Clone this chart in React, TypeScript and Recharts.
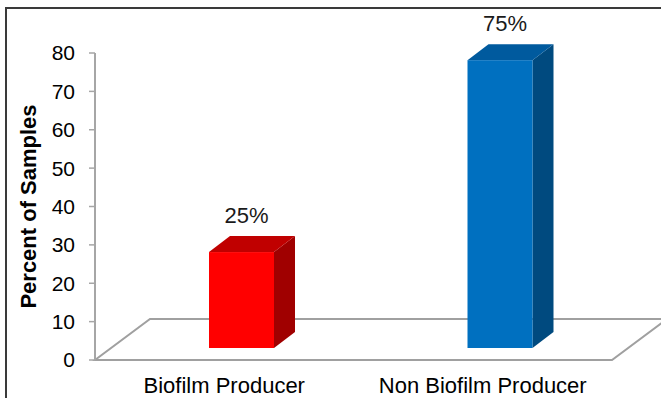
import { Bar, BarChart, LabelList, XAxis, YAxis } from "recharts";

const categories = ["Biofilm Producer", "Non Biofilm Producer"];
const percents = [25, 75];
const yTicks = [0, 10, 20, 30, 40, 50, 60, 70, 80];
const faceColors = [
  { front: "#FF0000", top: "#C00000", side: "#A00000" },
  { front: "#0070C0", top: "#005A9E", side: "#004A7F" },
];

const data = categories.map((name, i) => ({ name, value: percents[i], idx: i }));

const W = 661;
const H = 398;
const X_AXIS_H = 30;
const Y_AXIS_W = 95;
const margin = { top: 53, right: 49, bottom: 8, left: 0 };
const plotLeft = margin.left + Y_AXIS_W;
const plotRight = W - margin.right;
const plotBottom = H - margin.bottom - X_AXIS_H;

// bar sits in the middle of the floor depth
const SHIFT_X = 17;
const SHIFT_Y = 12;
const DEPTH_X = 21;
const DEPTH_Y = 16;
// floor depth
const FLOOR_X = 55;
const FLOOR_Y = 41;

const FONT = "'Liberation Sans', Arial, sans-serif";

function Bar3D(props: any) {
  const { x, y, width, height, payload } = props;
  const c = faceColors[payload.idx % faceColors.length];
  const fx = x + SHIFT_X;
  const fy = y - SHIFT_Y;
  const top = `${fx},${fy} ${fx + DEPTH_X},${fy - DEPTH_Y} ${fx + width + DEPTH_X},${fy - DEPTH_Y} ${fx + width},${fy}`;
  const side = `${fx + width},${fy} ${fx + width + DEPTH_X},${fy - DEPTH_Y} ${fx + width + DEPTH_X},${fy + height - DEPTH_Y} ${fx + width},${fy + height}`;
  return (
    <g>
      <polygon points={side} fill={c.side} />
      <polygon points={top} fill={c.top} />
      <rect x={fx} y={fy} width={width} height={height} fill={c.front} />
    </g>
  );
}

function ValueLabel(props: any) {
  const { x, y, width, value } = props;
  return (
    <text
      x={x + width / 2 + SHIFT_X + 5}
      y={y - 41}
      textAnchor="middle"
      fontSize={22}
      fontFamily={FONT}
      fill="#1a1a1a"
    >
      {`${value}%`}
    </text>
  );
}

function AxisTitle(props: any) {
  const vb = props.viewBox || { x: 0, y: margin.top, height: plotBottom - margin.top };
  const cx = vb.x + 28;
  const cy = vb.y + vb.height / 2;
  return (
    <text
      x={cx}
      y={cy}
      transform={`rotate(-90 ${cx} ${cy})`}
      textAnchor="middle"
      dominantBaseline="central"
      fontSize={22}
      fontWeight="bold"
      fontFamily={FONT}
      fill="#000"
    >
      Percent of Samples
    </text>
  );
}

function Floor() {
  const pts = [
    [plotLeft, plotBottom],
    [plotRight, plotBottom],
    [plotRight + FLOOR_X, plotBottom - FLOOR_Y],
    [plotLeft + FLOOR_X, plotBottom - FLOOR_Y],
  ];
  return (
    <svg
      width={W}
      height={H}
      style={{ position: "absolute", left: 0, top: 0 }}
    >
      <polygon
        points={pts.map((p) => p.join(",")).join(" ")}
        fill="none"
        stroke="#a0a0a0"
        strokeWidth={2}
      />
    </svg>
  );
}

export default function App() {
  return (
    <div
      style={{
        position: "fixed",
        left: 0,
        top: 0,
        width: W,
        height: H,
        background: "#fff",
        overflow: "hidden",
      }}
    >
      <div
        style={{
          position: "absolute",
          left: 5,
          top: 7,
          width: W + 20,
          height: H + 20,
          borderTop: "2px solid #3a3a3a",
          borderLeft: "2px solid #3a3a3a",
        }}
      />
      <Floor />
      <div style={{ position: "absolute", left: 0, top: 0 }}>
        <BarChart width={W} height={H} data={data} margin={margin} barSize={65}>
          <XAxis
            dataKey="name"
            axisLine={false}
            tickLine={false}
            tickSize={0}
            tickMargin={17}
            height={X_AXIS_H}
            tick={{ fontSize: 22, fill: "#000", fontFamily: FONT }}
          />
          <YAxis
            width={Y_AXIS_W}
            domain={[0, 80]}
            ticks={yTicks}
            interval={0}
            axisLine={{ stroke: "#a6a6a6", strokeWidth: 2 }}
            tickLine={{ stroke: "#a6a6a6", strokeWidth: 1.5 }}
            tickSize={6}
            tickMargin={14}
            tick={{ fontSize: 21, fill: "#000", fontFamily: FONT }}
            label={{ content: AxisTitle }}
          />
          <Bar dataKey="value" shape={Bar3D} isAnimationActive={false}>
            <LabelList dataKey="value" content={ValueLabel} />
          </Bar>
        </BarChart>
      </div>
    </div>
  );
}
